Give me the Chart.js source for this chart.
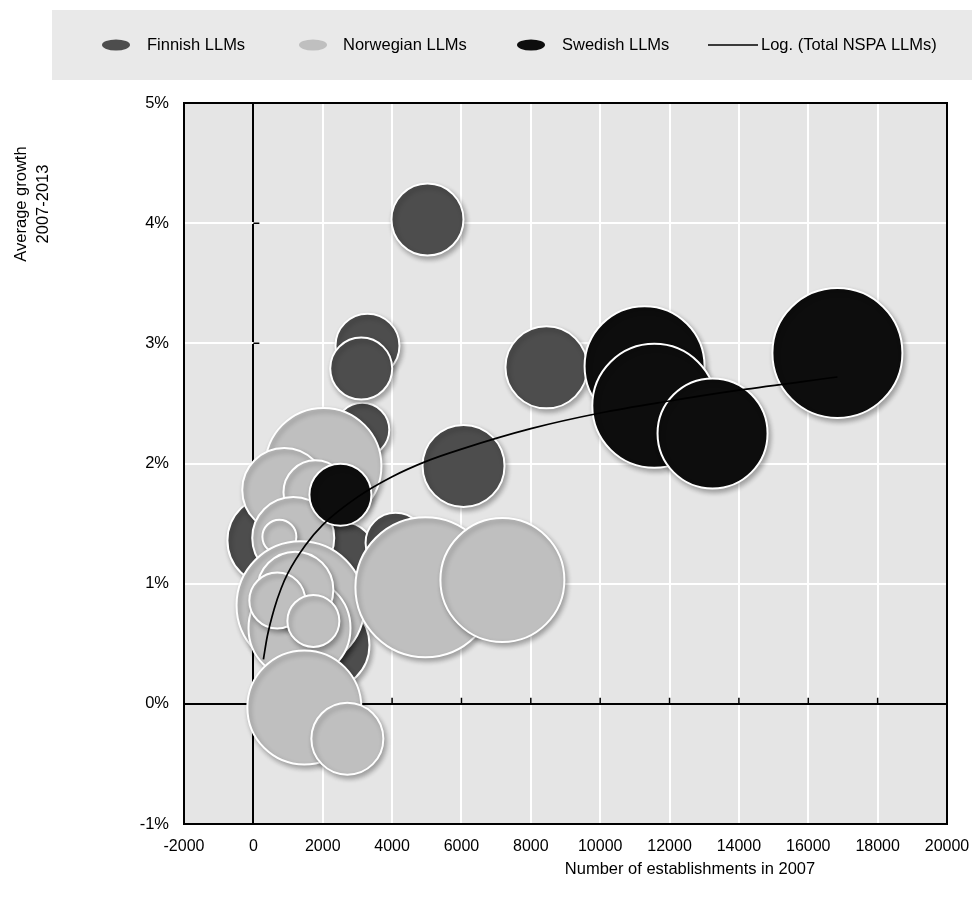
<!DOCTYPE html>
<html>
<head>
<meta charset="utf-8">
<script src="https://cdn.jsdelivr.net/npm/chart.js@4.4.1/dist/chart.umd.min.js"></script>
<style>
body{margin:0;background:#fff}
#wrap{width:972px;height:899px}
</style>
</head>
<body>
<div id="wrap"><canvas id="bubbleChart" width="972" height="899"></canvas></div>
<script>
// x = number of establishments in 2007, y = average growth 2007-2013 (%), r = bubble size
var finnishX = [550, 2050, 2620, 4100, 3140, 6060, 3290, 3110, 8450, 5020]
var finnishY = [1.36, 0.49, 1.26, 1.34, 2.28, 1.98, 2.98, 2.79, 2.80, 4.03]
var finnishR = [45, 45, 30, 30, 27, 41, 32, 31, 41, 36]

var norwegianX = [2020, 890, 1790, 1150, 750, 1360, 1330, 1210, 690, 1730, 1470, 2710, 4960, 7180]
var norwegianY = [1.98, 1.78, 1.76, 1.38, 1.39, 0.82, 0.63, 0.95, 0.86, 0.69, -0.03, -0.29, 0.97, 1.03]
var norwegianR = [58, 42, 32, 41, 17, 64, 51, 38, 28, 26, 57, 36, 70, 62]

var swedishX = [2510, 11280, 11560, 13240, 16840]
var swedishY = [1.74, 2.81, 2.48, 2.25, 2.92]
var swedishR = [31, 60, 62, 55, 65]

// logarithmic trend line
var trendX = [290, 400, 600, 800, 1000, 1500, 2000, 3000, 4000, 5000, 6000, 8000, 10000, 12000, 14000, 16840]
var trendY = [0.37, 0.56, 0.79, 0.96, 1.09, 1.32, 1.49, 1.72, 1.89, 2.02, 2.12, 2.29, 2.42, 2.52, 2.61, 2.72]

var xTicks = [-2000, 0, 2000, 4000, 6000, 8000, 10000, 12000, 14000, 16000, 18000, 20000]
var yTicks = [-1, 0, 1, 2, 3, 4, 5]

var FONT = "'Liberation Sans', Arial, sans-serif"

function bubbles(xs, ys, rs){
  return xs.map(function(x, i){ return {x: x, y: ys[i], r: rs[i]} })
}

var frame = {
  id: 'frame',
  beforeDraw: function(chart){
    var c = chart.ctx, a = chart.chartArea
    c.save()
    c.fillStyle = '#e9e9e9'
    c.fillRect(52, 10, 920, 70)
    c.fillStyle = '#e5e5e5'
    c.fillRect(a.left, a.top, a.right - a.left, a.bottom - a.top)
    c.restore()
  },
  beforeDatasetsDraw: function(chart){
    var c = chart.ctx, a = chart.chartArea
    var xs = chart.scales.x, ys = chart.scales.y
    var x0 = xs.getPixelForValue(0), y0 = ys.getPixelForValue(0)
    c.save()
    c.strokeStyle = '#000'
    c.lineWidth = 2
    c.strokeRect(a.left, a.top, a.right - a.left, a.bottom - a.top)
    c.lineWidth = 1.5
    c.beginPath()
    xTicks.forEach(function(v){
      var px = xs.getPixelForValue(v)
      c.moveTo(px, y0); c.lineTo(px, y0 - 6)
    })
    yTicks.forEach(function(v){
      var py = ys.getPixelForValue(v)
      c.moveTo(x0, py); c.lineTo(x0 + 6, py)
    })
    c.stroke()
    c.restore()
  },
  beforeDatasetDraw: function(chart, args){
    if (chart.data.datasets[args.index].type === 'line') return
    var c = chart.ctx
    c.save()
    c.shadowColor = 'rgba(0,0,0,0.3)'
    c.shadowBlur = 5
    c.shadowOffsetX = 2
    c.shadowOffsetY = 3
  },
  afterDatasetDraw: function(chart, args){
    if (chart.data.datasets[args.index].type === 'line') return
    chart.ctx.restore()
  },
  afterDraw: function(chart){
    var c = chart.ctx
    var ds = chart.data.datasets
    c.save()
    c.font = '16.5px ' + FONT
    c.fillStyle = '#000'
    c.textBaseline = 'middle'
    // legend
    var marks = [116, 313, 531]
    for (var i = 0; i < 3; i++) {
      c.fillStyle = ds[i].backgroundColor
      c.beginPath()
      c.ellipse(marks[i], 45, 14, 5.5, 0, 0, Math.PI * 2)
      c.fill()
    }
    c.strokeStyle = '#000'
    c.lineWidth = 1.5
    c.beginPath(); c.moveTo(708, 45); c.lineTo(758, 45); c.stroke()
    c.fillStyle = '#000'
    var textX = [147, 343, 562, 761]
    for (var j = 0; j < 4; j++) c.fillText(ds[j].label, textX[j], 45)
    // axis titles
    c.textAlign = 'center'
    c.fillText('Number of establishments in 2007', 690, 869)
    c.translate(32, 204)
    c.rotate(-Math.PI / 2)
    c.fillText('Average growth', 0, -11)
    c.fillText('2007-2013', 0, 11)
    c.restore()
  }
}

Chart.defaults.color = '#000'
Chart.defaults.font.family = FONT

new Chart(document.getElementById('bubbleChart'), {
  type: 'bubble',
  data: {
    datasets: [
      {
        label: 'Finnish LLMs',
        data: bubbles(finnishX, finnishY, finnishR),
        backgroundColor: '#4d4d4d',
        borderColor: '#ffffff',
        borderWidth: 2,
        order: 4
      },
      {
        label: 'Norwegian LLMs',
        data: bubbles(norwegianX, norwegianY, norwegianR),
        backgroundColor: '#bfbfbf',
        borderColor: '#ffffff',
        borderWidth: 2,
        order: 3
      },
      {
        label: 'Swedish LLMs',
        data: bubbles(swedishX, swedishY, swedishR),
        backgroundColor: '#0d0d0d',
        borderColor: '#ffffff',
        borderWidth: 2,
        order: 2
      },
      {
        type: 'line',
        label: 'Log. (Total NSPA LLMs)',
        data: trendX.map(function(x, i){ return {x: x, y: trendY[i]} }),
        borderColor: '#000',
        backgroundColor: '#000',
        borderWidth: 1.7,
        pointRadius: 0,
        fill: false,
        cubicInterpolationMode: 'monotone',
        order: 1
      }
    ]
  },
  options: {
    responsive: false,
    animation: false,
    devicePixelRatio: 1,
    layout: { autoPadding: false, padding: { left: 52, top: 103, right: 25, bottom: 0 } },
    plugins: { legend: { display: false }, tooltip: { enabled: false } },
    scales: {
      x: {
        type: 'linear',
        min: -2000,
        max: 20000,
        afterFit: function(s){
          s.height = 75
          s.paddingLeft = 0; s.paddingRight = 0; s.paddingTop = 0; s.paddingBottom = 0
        },
        afterBuildTicks: function(s){ s.ticks = xTicks.map(function(v){ return {value: v} }) },
        border: { display: false },
        grid: {
          drawTicks: false,
          lineWidth: 2,
          color: function(ctx){ return ctx.tick && ctx.tick.value === 0 ? '#000' : '#fff' }
        },
        ticks: { padding: 13, font: { size: 16 }, callback: function(v){ return String(v) } }
      },
      y: {
        min: -1,
        max: 5,
        afterFit: function(s){
          s.width = 132
          s.paddingLeft = 0; s.paddingRight = 0; s.paddingTop = 0; s.paddingBottom = 0
        },
        afterBuildTicks: function(s){ s.ticks = yTicks.map(function(v){ return {value: v} }) },
        border: { display: false },
        grid: {
          drawTicks: false,
          lineWidth: 2,
          color: function(ctx){ return ctx.tick && ctx.tick.value === 0 ? '#000' : '#fff' }
        },
        ticks: { padding: 15, font: { size: 16.5 }, callback: function(v){ return v + '%' } }
      }
    }
  },
  plugins: [frame]
})
</script>
</body>
</html>
